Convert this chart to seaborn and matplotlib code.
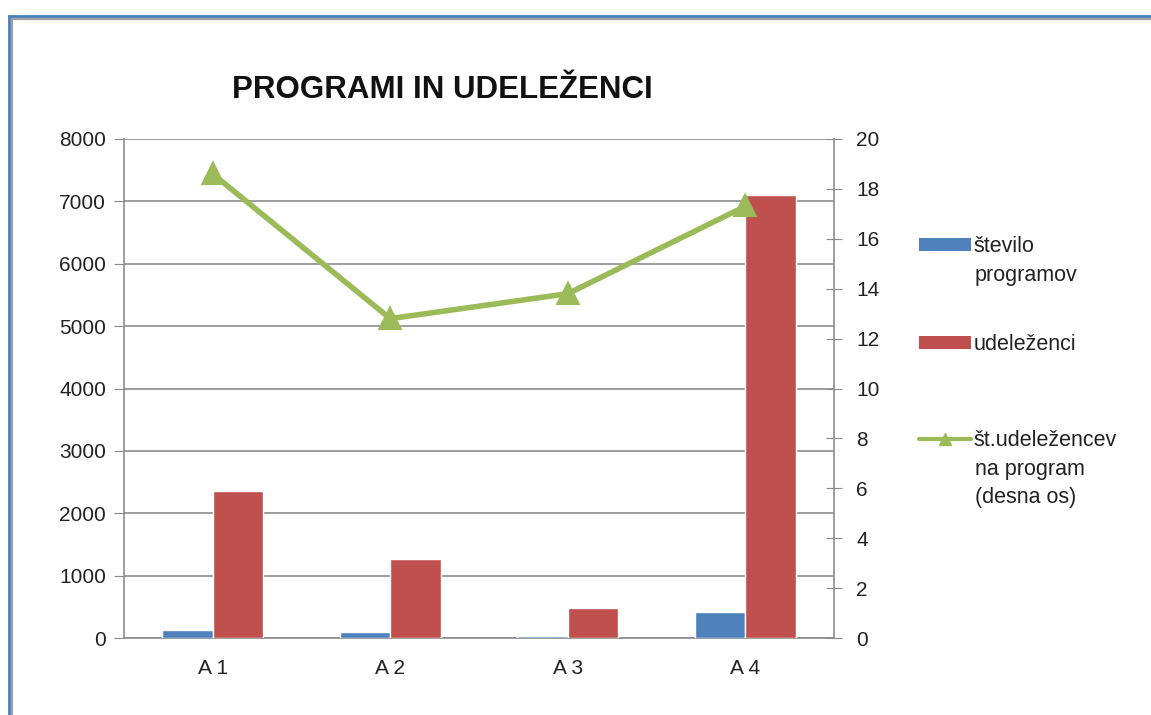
import seaborn as sns
import matplotlib.pyplot as plt
import pandas as pd
from matplotlib.patches import Patch, Rectangle
from matplotlib.lines import Line2D

# Data
categories = ["A 1", "A 2", "A 3", "A 4"]
programs = [125, 98, 35, 410]
participants = [2360, 1260, 480, 7100]
per_program = [18.6, 12.8, 13.8, 17.3]

blue = "#4F81BD"
red = "#C0504D"
green = "#9BBB59"
grid_gray = "#8C8C8C"
text_col = "#222222"

sns.set_style("white")
plt.rcParams["font.family"] = ["Liberation Sans", "DejaVu Sans"]

bars = pd.DataFrame({
    "kategorija": categories * 2,
    "serija": ["število programov"] * 4 + ["udeleženci"] * 4,
    "vrednost": programs + participants,
})
line = pd.DataFrame({"kategorija": categories, "na_program": per_program})

fig = plt.figure(figsize=(11.51, 7.15), dpi=100)
ax = fig.add_axes([124 / 1151, 77 / 715, 710 / 1151, 499 / 715])

sns.barplot(data=bars, x="kategorija", y="vrednost", hue="serija",
            palette=[blue, red], width=0.57, saturation=1, ax=ax,
            legend=False, zorder=3)
ax.set_ylim(0, 8000)
ax.set_yticks(range(0, 8001, 1000))
ax.set_xlim(-0.5, 3.5)
ax.grid(axis="y", color=grid_gray, linewidth=1.2, zorder=0)
ax.set_axisbelow(True)
ax.set_xlabel("")
ax.set_ylabel("")

ax2 = ax.twinx()
sns.pointplot(data=line, x="kategorija", y="na_program", color=green,
              markers="^", linestyles="-", ax=ax2, zorder=5,
              markersize=13, linewidth=4)
ax2.set_ylim(0, 20)
ax2.set_yticks(range(0, 21, 2))
ax2.set_xlim(-0.5, 3.5)
ax2.set_ylabel("")
ax2.set_xlabel("")

ax.spines["top"].set_visible(False)
ax.spines["right"].set_visible(False)
for s in ("left", "bottom"):
    ax.spines[s].set_color(grid_gray)
    ax.spines[s].set_linewidth(1.2)
for s in ("top", "left", "bottom"):
    ax2.spines[s].set_visible(False)
ax2.spines["right"].set_color(grid_gray)
ax2.spines["right"].set_linewidth(1.2)

ax.tick_params(axis="y", direction="out", length=7, color=grid_gray,
               labelsize=15, labelcolor=text_col, pad=6, left=True)
ax2.tick_params(axis="y", direction="inout", length=12, color=grid_gray,
                labelsize=15, labelcolor=text_col, pad=10, right=True)
ax.set_xticks([0, 1, 2, 3])
ax.set_xticklabels(categories)
ax.tick_params(axis="x", length=0, labelsize=15, labelcolor=text_col, pad=15)
# category separator ticks
ax.set_xticks([0.5, 1.5, 2.5, 3.5], minor=True)
ax.tick_params(axis="x", which="minor", length=10, color=grid_gray, direction="out")
ax2.tick_params(axis="x", length=0, labelbottom=False)

fig.text(442 / 1151, 1 - 90 / 715, "PROGRAMI IN UDELEŽENCI", ha="center",
         va="center", fontsize=22.5, fontweight="bold", color="#111111")

# legend: one entry per block, handle aligned with the first text line
entries = [
    (Patch(facecolor=blue, edgecolor="none"), "število", ["programov"], 247),
    (Patch(facecolor=red, edgecolor="none"), "udeleženci", [], 345),
    (Line2D([], [], color=green, linewidth=3, marker="^", markersize=9),
     "št.udeležencev", ["na program", "(desna os)"], 441),
]
for handle, first, rest, ypix in entries:
    fig.legend([handle], [first], loc="center left",
               bbox_to_anchor=(919 / 1151, 1 - ypix / 715),
               frameon=False, fontsize=15.5, handlelength=2.4,
               handleheight=0.55, handletextpad=0.15, borderpad=0,
               borderaxespad=0, labelcolor=text_col)
    for i, txt in enumerate(rest):
        fig.text(975 / 1151, 1 - (ypix + 28 * (i + 1)) / 715,
                 txt, ha="left", va="center", fontsize=15.5, color=text_col)

# chart frame
fig.add_artist(Rectangle((8.5 / 1151, -0.1), 1.2, (715 - 15.5) / 715 + 0.1,
                         transform=fig.transFigure, fill=False,
                         edgecolor="#4A7EBB", linewidth=2))
fig.add_artist(Rectangle((12 / 1151, -0.1), 1.2, (715 - 19) / 715 + 0.1,
                         transform=fig.transFigure, fill=False,
                         edgecolor="#A0A0A0", linewidth=1.5))

fig.savefig("out.png", dpi=100)
